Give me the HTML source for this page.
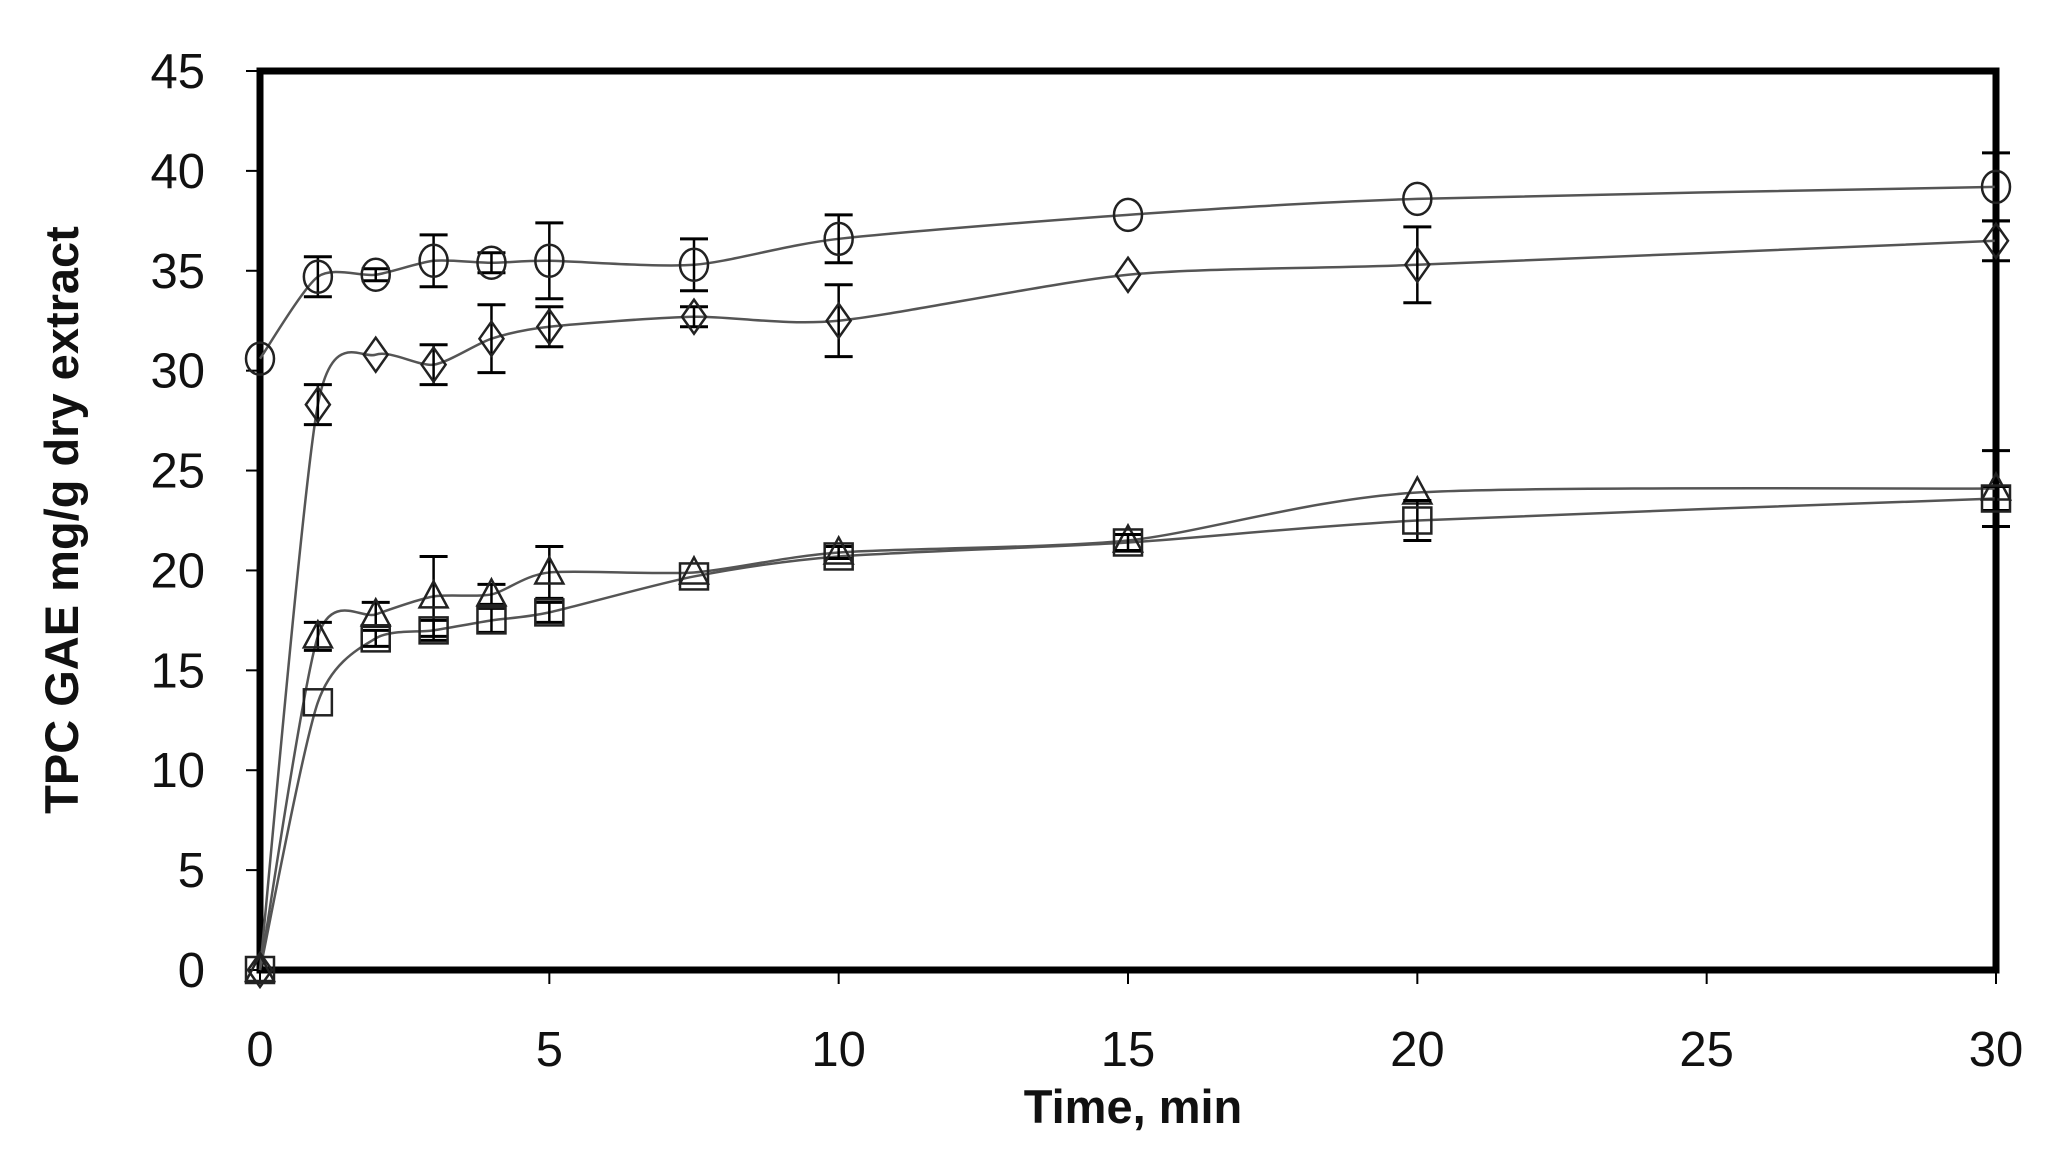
<!DOCTYPE html>
<html><head><meta charset="utf-8"><style>
html,body{margin:0;padding:0;background:#fff;}
svg{display:block;}
</style></head><body>
<svg id="c" width="2062" height="1160" xmlns="http://www.w3.org/2000/svg" font-family="Liberation Sans, DejaVu Sans, sans-serif"></svg>
<script>
const L=260,R=1996,T=71,B=970;
const X=t=>L+(R-L)*t/30, Y=v=>B-(B-T)*v/45;
const svg=document.getElementById('c');
let s='';
const xs=[0,1,2,3,4,5,7.5,10,15,20,30];
const series=[
 {m:'circle',v:[30.6,34.7,34.8,35.5,35.4,35.5,35.3,36.6,37.8,38.6,39.2],e:[0,1,0.3,1.3,0.5,1.9,1.3,1.2,0,0,1.7]},
 {m:'diamond',v:[0,28.3,30.8,30.3,31.6,32.2,32.7,32.5,34.8,35.3,36.5],e:[0,1,0,1,1.7,1,0.5,1.8,0,1.9,1]},
 {m:'tri',v:[0,16.7,17.8,18.7,18.8,19.9,19.9,20.9,21.5,23.9,24.1],e:[0,0.7,0.6,2,0.5,1.3,0,0.3,0,0,1.9]},
 {m:'sq',v:[0,13.4,16.6,17.0,17.5,17.9,19.7,20.7,21.4,22.5,23.6],e:[0,0,0.4,0.5,0.6,0.5,0,0,0.4,1,0.6]}
];
s+=`<rect x="${L}" y="${T}" width="${R-L}" height="${B-T}" fill="none" stroke="#000" stroke-width="7"/>`;
for(let i=0;i<=9;i++){const y=Y(i*5);
 s+=`<line x1="${L-14}" y1="${y}" x2="${L}" y2="${y}" stroke="#000" stroke-width="2"/>`;
 s+=`<text x="205" y="${y+17}" font-size="49" text-anchor="end" fill="#111">${i*5}</text>`;}
for(let i=0;i<=6;i++){const x=X(i*5);
 s+=`<line x1="${x}" y1="${B}" x2="${x}" y2="${B+14}" stroke="#000" stroke-width="2"/>`;
 s+=`<text x="${x}" y="1066" font-size="49" text-anchor="middle" fill="#111">${i*5}</text>`;}
s+=`<text x="1133" y="1123" font-size="47" font-weight="bold" text-anchor="middle" fill="#111">Time, min</text>`;
s+=`<text transform="translate(78,520) rotate(-90)" font-size="47" font-weight="bold" text-anchor="middle" fill="#111">TPC GAE mg/g dry extract</text>`;
series.forEach(se=>{
 const p=xs.map((t,i)=>[X(t),Y(se.v[i])]);
 let d=`M${p[0][0]},${p[0][1]}`;
 const k=8;
 for(let i=0;i<p.length-1;i++){
  const p0=p[Math.max(0,i-1)],p1=p[i],p2=p[i+1],p3=p[Math.min(p.length-1,i+2)];
  const c1=[p1[0]+(p2[0]-p0[0])/k,p1[1]+(p2[1]-p0[1])/k];
  const c2=[p2[0]-(p3[0]-p1[0])/k,p2[1]-(p3[1]-p1[1])/k];
  d+=` C${c1[0]},${c1[1]} ${c2[0]},${c2[1]} ${p2[0]},${p2[1]}`;
 }
 s+=`<path d="${d}" fill="none" stroke="#555" stroke-width="2.5"/>`;
});
series.forEach(se=>{
 xs.forEach((t,i)=>{
  const x=X(t),y=Y(se.v[i]),e=se.e[i];
  if(e>0){const y1=Y(se.v[i]+e),y2=Y(se.v[i]-e);
   s+=`<line x1="${x}" y1="${y1}" x2="${x}" y2="${y2}" stroke="#000" stroke-width="2.5"/>`;
   s+=`<line x1="${x-14}" y1="${y1}" x2="${x+14}" y2="${y1}" stroke="#000" stroke-width="3"/>`;
   s+=`<line x1="${x-14}" y1="${y2}" x2="${x+14}" y2="${y2}" stroke="#000" stroke-width="3"/>`;}
  const st='fill="none" stroke="#222" stroke-width="2.5"';
  if(se.m==='circle') s+=`<ellipse cx="${x}" cy="${y}" rx="14" ry="16" ${st}/>`;
  if(se.m==='diamond') s+=`<polygon points="${x},${y-17} ${x+12},${y} ${x},${y+17} ${x-12},${y}" ${st}/>`;
  if(se.m==='tri') s+=`<polygon points="${x},${y-15} ${x+14},${y+11} ${x-14},${y+11}" ${st}/>`;
  if(se.m==='sq') s+=`<rect x="${x-14}" y="${y-13}" width="28" height="26" ${st}/>`;
 });
});
svg.innerHTML=s;
</script>
</body></html>
